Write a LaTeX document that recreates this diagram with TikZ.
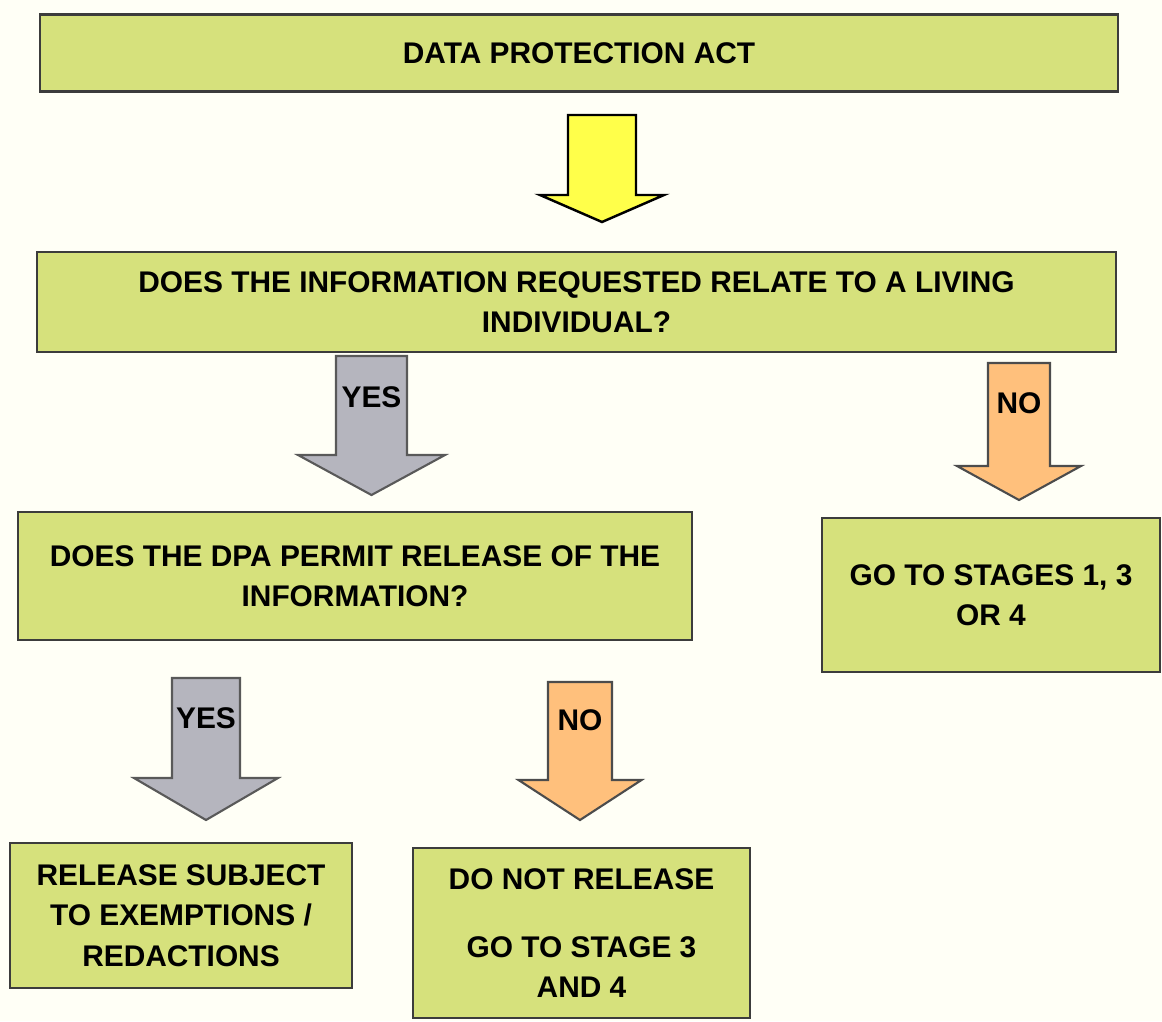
\documentclass[tikz,border=0pt]{standalone}
\usepackage{fontspec}
\setmainfont{Liberation Sans}
\usetikzlibrary{positioning}
\definecolor{paper}{HTML}{FFFFF6}
\definecolor{boxgreen}{HTML}{D6E17C}
\definecolor{boxline}{HTML}{3C3C3C}
\definecolor{ayellow}{HTML}{FFFF4A}
\definecolor{agrey}{HTML}{B5B5BE}
\definecolor{aorange}{HTML}{FFC07C}
\tikzset{dbox/.style={rectangle,draw=boxline,fill=boxgreen,line width=1.3pt,inner sep=0pt,
		align=center,font=\fontsize{17}{23}\selectfont\bfseries},
	 atext/.style={inner sep=0pt,font=\fontsize{17}{23}\selectfont\bfseries},
	 yarrow/.style={draw=black,fill=ayellow,line width=1.4pt,line join=miter},
	 garrow/.style={draw=black!65,fill=agrey,line width=1.2pt,line join=miter},
	 oarrow/.style={draw=black!70,fill=aorange,line width=1.2pt,line join=miter},
	 node distance = 1
	 }
% #1 style, #2 centre x, #3 top, #4 head base, #5 tip, #6 half shaft, #7 half head
\newcommand{\blockdown}[7]{%
	\draw[#1] ({#2-#6},#3) -- ({#2+#6},#3) -- ({#2+#6},#4) -- ({#2+#7},#4)
		-- (#2,#5) -- ({#2-#7},#4) -- ({#2-#6},#4) -- cycle;}

\begin{document}
\begin{tikzpicture}[x=0.02cm,y=-0.02cm] % DPA flow chart
	\fill[paper] (0,0) rectangle (1162,1021);
	\useasboundingbox (0,0) rectangle (1162,1021);
	\node[dbox,minimum width=21.56cm,minimum height=1.54cm] (dpa) at (579,53) {DATA PROTECTION ACT};
	\node[dbox,minimum width=21.58cm,minimum height=2.0cm] (living) at (576.5,302)
		{DOES THE INFORMATION REQUESTED RELATE TO A LIVING\\INDIVIDUAL?};
	\node[dbox,minimum width=13.48cm,minimum height=2.56cm] (permit) at (355,576)
		{DOES THE DPA PERMIT RELEASE OF THE\\INFORMATION?};
	\node[dbox,minimum width=6.76cm,minimum height=3.08cm] (stages) at (991,595)
		{GO TO STAGES 1, 3\\OR 4};
	\node[dbox,minimum width=6.84cm,minimum height=2.9cm] (release) at (181,915.5)
		{RELEASE SUBJECT\\TO EXEMPTIONS /\\REDACTIONS};
	\node[dbox,minimum width=6.74cm,minimum height=3.4cm] (norelease) at (581.5,933)
		{DO NOT RELEASE\\[0.55cm]GO TO STAGE 3\\AND 4};
	\blockdown{yarrow}{602}{115}{195}{222}{34}{62}
	\blockdown{garrow}{371.5}{356}{455}{495}{35.5}{73.5}
	\blockdown{oarrow}{1019}{363}{466}{500}{31}{62}
	\blockdown{garrow}{206}{678}{778}{820}{34}{72}
	\blockdown{oarrow}{580}{682}{780}{820}{32}{61.5}
	\node[atext] (yes1) at (371.5,397) {YES};
	\node[atext] (no1) at (1019,403) {NO};
	\node[atext] (yes2) at (206,718) {YES};
	\node[atext] (no2) at (580,720) {NO};
\end{tikzpicture}
\end{document}
